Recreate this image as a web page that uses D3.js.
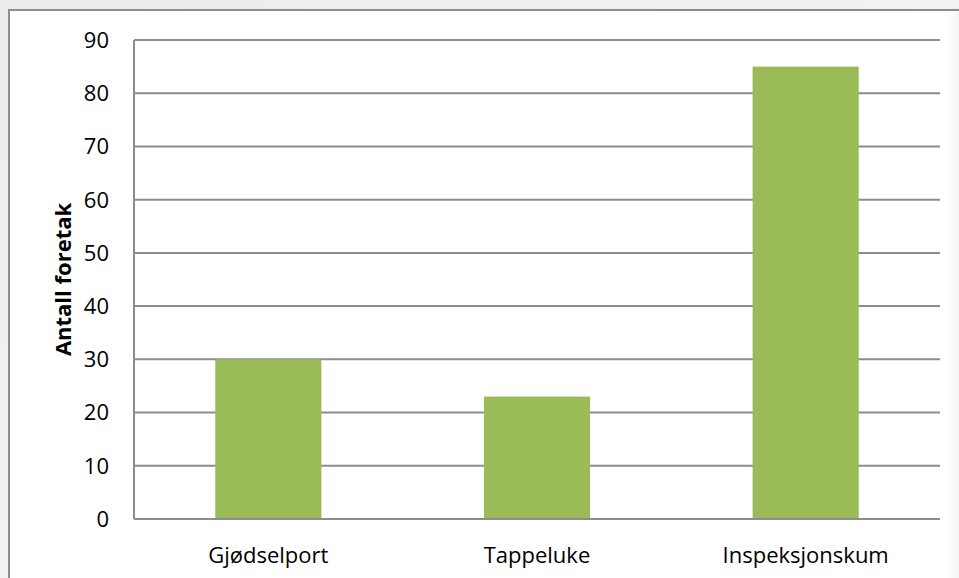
<!DOCTYPE html>
<html>
<head>
<meta charset="utf-8">
<script src="https://cdn.jsdelivr.net/npm/d3@7"></script>
<style>
  body { margin: 0; background: #f3f3f3; }
  svg { display: block; }
  text { font-family: "Open Sans", "Noto Sans", sans-serif; fill: #000; }
</style>
</head>
<body>
<svg id="chart" width="959" height="578"></svg>
<script>
// data
const categories = ["Gjødselport", "Tappeluke", "Inspeksjonskum"];
const values = [30, 23, 85];
const yTicks = [0, 10, 20, 30, 40, 50, 60, 70, 80, 90];
const yTitle = "Antall foretak";

const svg = d3.select("#chart");
const W = +svg.attr("width"), H = +svg.attr("height");

// page background + frame
const defs = svg.append("defs");
const bg = defs.append("linearGradient").attr("id", "bg").attr("x1", 0).attr("y1", 0).attr("x2", 1).attr("y2", 1);
bg.append("stop").attr("offset", "0%").attr("stop-color", "#ececec");
bg.append("stop").attr("offset", "100%").attr("stop-color", "#f8f8f8");
svg.append("rect").attr("width", W).attr("height", H).attr("fill", "url(#bg)");

const shadow = defs.append("linearGradient").attr("id", "shadow").attr("x1", 0).attr("x2", 1);
shadow.append("stop").attr("offset", "0%").attr("stop-color", "#ffffff");
shadow.append("stop").attr("offset", "100%").attr("stop-color", "#f4f4f4");

svg.append("rect")
    .attr("x", 9).attr("y", 10)
    .attr("width", W + 10).attr("height", H + 10)
    .attr("fill", "#fff")
    .attr("stroke", "#8c8c8c").attr("stroke-width", 2);
svg.append("rect")
    .attr("x", 948).attr("y", 11)
    .attr("width", W - 948).attr("height", H)
    .attr("fill", "url(#shadow)");

const margin = {top: 40, right: 19, bottom: 59, left: 134};
const width = W - margin.left - margin.right,
      height = H - margin.top - margin.bottom;

const g = svg.append("g").attr("transform", "translate(" + margin.left + "," + margin.top + ")");

const x = d3.scaleBand()
    .domain(categories)
    .range([0, width])
    .paddingInner(0.605)
    .paddingOuter(0.3025);

const xc = d3.scaleBand().domain(categories).range([0, width]);

const y = d3.scaleLinear()
    .domain([0, 90])
    .range([height, 0]);

// gridlines
g.append("g")
    .selectAll("line")
    .data(yTicks)
    .enter().append("line")
    .attr("x1", 0).attr("x2", width)
    .attr("y1", d => y(d)).attr("y2", d => y(d))
    .attr("stroke", "#8c8c8c").attr("stroke-width", 2);

// y axis line
g.append("line")
    .attr("x1", 0).attr("x2", 0)
    .attr("y1", 0).attr("y2", height)
    .attr("stroke", "#8c8c8c").attr("stroke-width", 2);

// bars
g.append("g")
    .selectAll("rect")
    .data(values)
    .enter().append("rect")
    .attr("x", (d, i) => x(categories[i]))
    .attr("width", x.bandwidth())
    .attr("y", d => y(d))
    .attr("height", d => y(0) - y(d) - 1)
    .attr("fill", "#9bbb59");

// y tick labels
g.append("g")
    .selectAll("text")
    .data(yTicks)
    .enter().append("text")
    .attr("x", -25)
    .attr("y", d => y(d))
    .attr("dy", "0.36em")
    .attr("text-anchor", "end")
    .style("font-size", "22px")
    .text(d => d);

// category labels
g.append("g")
    .selectAll("text")
    .data(categories)
    .enter().append("text")
    .attr("x", d => xc(d) + xc.bandwidth() / 2)
    .attr("y", height + 44)
    .attr("text-anchor", "middle")
    .style("font-size", "22px")
    .text(d => d);

// axis title
g.append("text")
    .attr("transform", "translate(" + (-63) + "," + (height / 2) + ") rotate(-90)")
    .attr("text-anchor", "middle")
    .style("font-size", "22px")
    .style("font-weight", "bold")
    .text(yTitle);
</script>
</body>
</html>
